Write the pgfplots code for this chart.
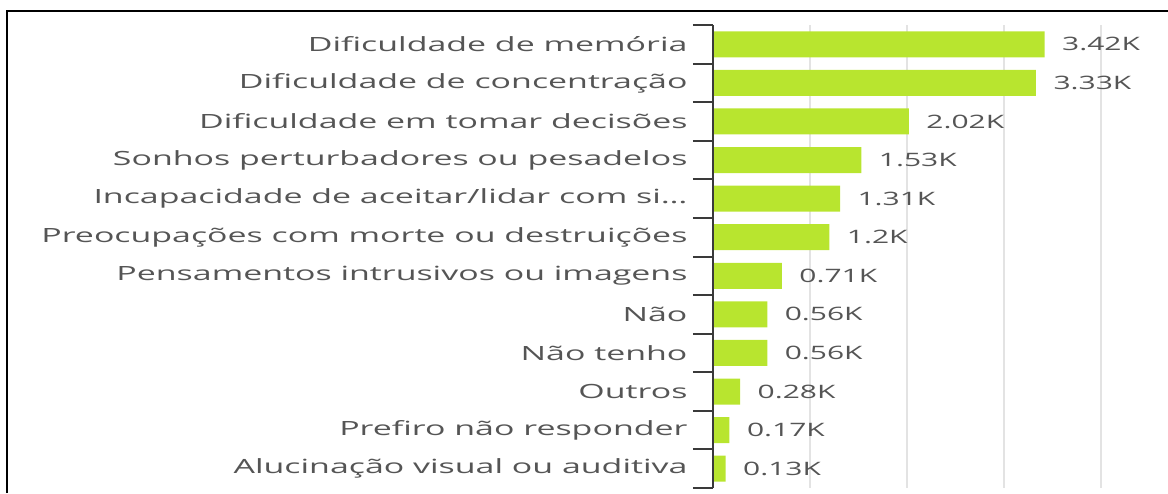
\documentclass[border=0pt]{standalone}
\usepackage{pgfplots}
\usepackage{pgfplotstable}
\pgfplotsset{compat=1.18}
\usepackage{fontspec}
\setmainfont[FakeStretch=1.73]{Open Sans}
\newfontfamily\numfont[FakeStretch=1.62]{Open Sans}
\definecolor{barc}{HTML}{B8E52F}
\definecolor{txt}{HTML}{555555}
\definecolor{gridc}{HTML}{E3E3E3}
\definecolor{axc}{HTML}{3A3A3A}
\pgfplotstableread[col sep=comma]{
cat,value,label
0,3420,3.42K
1,3330,3.33K
2,2020,2.02K
3,1530,1.53K
4,1310,1.31K
5,1200,1.2K
6,710,0.71K
7,560,0.56K
8,560,0.56K
9,280,0.28K
10,170,0.17K
11,130,0.13K
}\data
\begin{document}
\begin{tikzpicture}[x=1pt,y=1pt]
\useasboundingbox (0,0) rectangle (1168,493);
\draw[line width=2pt, black] (7,0) -- (7,482) -- (1168,482);
\begin{axis}[
  at={(713pt,5pt)}, anchor=south west,
  scale only axis, width=451pt, height=463pt,
  xmin=0, xmax=4650, ymin=-0.5, ymax=11.5, y dir=reverse,
  xbar, bar width=26pt, bar shift=0pt,
  axis line style={draw=none},
  xtick={1000,2000,3000,4000}, xticklabels={},
  xmajorgrids, grid style={gridc, line width=2pt},
  x tick style={draw=none},
  ytick={0,1,2,3,4,5,6,7,8,9,10,11},
  yticklabels={Dificuldade de memória, Dificuldade de concentração, Dificuldade em tomar decisões, Sonhos perturbadores ou pesadelos, {Incapacidade de aceitar/lidar com si\ldots}, Preocupações com morte ou destruições, Pensamentos intrusivos ou imagens, Não, Não tenho, Outros, Prefiro não responder, Alucinação visual ou auditiva},
  ytick pos=left,
  major tick length=0pt,
  y tick style={axc, line width=2pt},
  yticklabel style={font=\fontsize{19.6}{22}\selectfont, text=txt, xshift=-22pt},
  extra y ticks={-0.5,0.5,1.5,2.5,3.5,4.5,5.5,6.5,7.5,8.5,9.5,10.5,11.5},
  extra y tick labels={},
  extra y tick style={major tick length=20pt, tick align=outside, ytick pos=left},
  nodes near coords={\pgfplotspointmeta},
  point meta=explicit symbolic,
  nodes near coords style={anchor=west, xshift=14pt, font=\numfont\fontsize{18.5}{22}\selectfont, text=txt},
  clip=false,
]
\addplot[fill=barc, draw=none] table[x=value, y=cat, meta=label] {\data};
\draw[axc, line width=2.5pt] (rel axis cs:0,0) -- (rel axis cs:0,1);
\end{axis}
\end{tikzpicture}
\end{document}
